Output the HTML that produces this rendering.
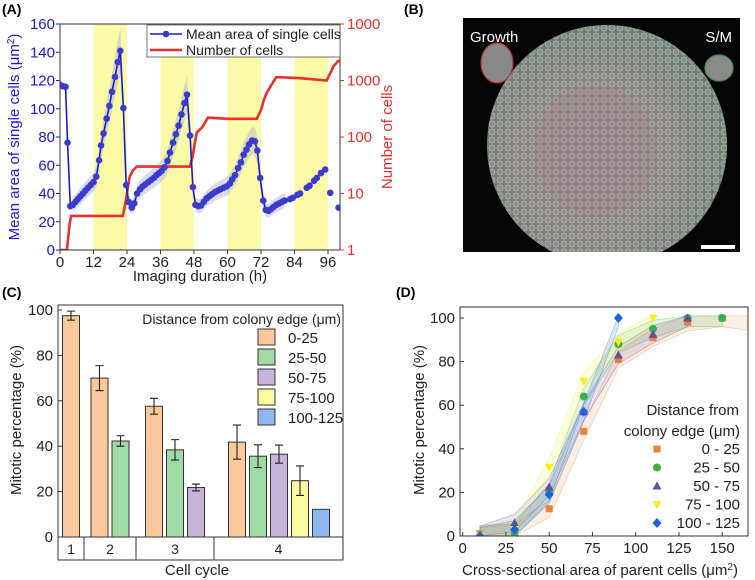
<!DOCTYPE html>
<html><head><meta charset="utf-8"><style>
body{margin:0;background:#fff}
svg{display:block;font-family:"Liberation Sans",Arial,sans-serif}
</style></head><body>
<svg id="fig" width="755" height="580" viewBox="0 0 755 580" xmlns="http://www.w3.org/2000/svg">
<defs>
<pattern id="cells" width="8" height="8" patternUnits="userSpaceOnUse">
<circle cx="4" cy="4" r="3" fill="#9aa09a" stroke="#d0d6d0" stroke-width="0.9" opacity="0.7"/>
</pattern>
<radialGradient id="colgrad" cx="45%" cy="55%" r="55%">
<stop offset="0" stop-color="#8c7a82"/><stop offset="0.6" stop-color="#86807f"/><stop offset="1" stop-color="#6a7a6e"/>
</radialGradient>
<clipPath id="clipA"><rect x="60" y="24" width="280" height="226"/></clipPath>
<clipPath id="clipB"><rect x="463" y="18" width="277" height="234"/></clipPath>
<clipPath id="clipD"><rect x="460" y="307" width="288" height="229"/></clipPath>
<clipPath id="clipR"><rect x="0" y="0" width="381" height="300"/></clipPath>
</defs>
<g id="pA"></g>
<g id="pB">
<rect x="463" y="18" width="277" height="234" fill="#050505"/>
<g clip-path="url(#clipB)">
<circle cx="607" cy="145" r="120" fill="url(#colgrad)"/>
<circle cx="607" cy="145" r="120" fill="url(#cells)" opacity="0.8"/>
<ellipse cx="595" cy="150" rx="60" ry="65" fill="#b07f8c" opacity="0.2"/>
</g>
<ellipse cx="497" cy="63" rx="16" ry="20" fill="#888" stroke="#c03030" stroke-width="1.2"/>
<ellipse cx="719" cy="68" rx="14" ry="13" fill="#8a8a8a" stroke="#4c8c5c" stroke-width="1.2"/>
<text x="470" y="42" font-size="15" fill="#fff">Growth</text>
<text x="732" y="42" font-size="15" fill="#fff" text-anchor="end">S/M</text>
<rect x="701" y="245" width="34" height="4" fill="#fff"/>
</g>
<g id="pC"></g>
<g id="pD"></g>
<text x="2" y="14" font-size="14" font-weight="bold">(A)</text>
<text x="404" y="14" font-size="14" font-weight="bold">(B)</text>
<text x="2" y="297" font-size="14" font-weight="bold">(C)</text>
<text x="396" y="297" font-size="14" font-weight="bold">(D)</text>
</svg>
<script>
// ---- Panel A data ----
const timesA=[0,1,2,2.7,3.7,4.6,5.5,6.4,7.3,8.2,9.1,10,11,12,13,14,14.7,15.6,16.7,17.7,18.6,19.7,20.7,21.6,22.7,23.7,24.6,25.7,26.6,27.6,28.7,29.6,30.6,31.6,32.6,33.6,34.6,35.5,36.4,37.4,38.5,39.4,40.5,41.5,42.5,43.5,44.6,45.5,46.6,47.6,48.5,49.6,50.5,51.5,52.5,53.5,54.5,55.5,56.5,57.5,58.6,59.7,60.8,61.7,62.7,63.8,64.8,65.8,66.8,67.7,68.8,69.8,70.7,71.7,72.8,73.7,74.7,75.6,76.5,77.5,78.5,79.5,80.5];
const areaA=[117,116,115.5,76,31,32,34,36,38,40,42,44,46,48,52,63.5,74,82.5,93,102,112,122.5,133,141,100.5,46,34,30,33,40,43,45,46.5,48,49.5,51,53,54.5,56,58.5,63,69,76,82,88,96,104,110,81,44.5,32,31,31.5,34,36.5,38,39.5,41,42,43,44,45,47,50,53,58,62,67.5,71,74.7,77.5,77,70.4,51,35,28.4,27.7,29,30.5,32,33,34,35];
const timesA2=[82.4,83.4,85,86,88.4,89.4,91,92,93.5,95,96.8,99.8];
const areaA2=[36,37,39,40,44,45.5,49,51,54.5,57,40.5,30];
const cellT=[0,2.5,3,3.5,4,22.5,23.5,24.5,25,26,27.5,46.5,47.5,48.5,49,51,53,60,70.5,72,73,74,75.5,77.5,86,95.5,97,98,100];
const cellN=[1,1,1.8,3,4,4,7,15,20,25,30,30,45,90,120,150,220,210,210,300,450,600,800,1150,1100,1000,1400,1800,2300];
const bandsA=[[12,24],[36,48],[60,72],[84,96]];
const xTicksA=[0,12,24,36,48,60,72,84,96];
const yTicksA=[0,20,40,60,80,100,120,140,160];
const rTicksA=[1,10,100,1000,10000];
// ---- Panel C data ----
const cycleGroups=[1,2,3,4];
const rangeNames=["0-25","25-50","50-75","75-100","100-125"];
const barCycle=[1,2,2,3,3,3,4,4,4,4,4];
const barRange=[0,0,1,0,1,2,0,1,2,3,4];
const barVal=[97.5,70,42.3,57.6,38.4,21.8,41.8,35.6,36.5,24.8,12.2];
const barErr=[2,5.5,2.3,3.5,4.5,1.5,7.5,5,4,6.5,0];
const yTicksC=[0,20,40,60,80,100];
// ---- Panel D data ----
const dX=[10,30,50,70,90,110,130,150];
const d0=[1,1.5,12.5,48,81,91,98,100];
const d1=[0,1.5,20,64,88,95,100,100];
const d2=[0.5,6,22.5,57,83,92.5,100,null];
const d3=[0,3,31.5,71,89,100,null,null];
const d4=[0,3,19,57,100,null,null,null];
const xTicksD=[0,25,50,75,100,125,150];
const yTicksD=[0,20,40,60,80,100];

const NS="http://www.w3.org/2000/svg";
function mk(parent,tag,attrs,text){const e=document.createElementNS(NS,tag);for(const k in attrs)e.setAttribute(k,attrs[k]);if(text!==undefined)e.textContent=text;parent.appendChild(e);return e;}

// ===== Panel A =====
(function(){
const g=document.getElementById('pA');
const L=60,R=340,T=24,B=250;
const x=h=>L+h*(268/96);
const y=v=>B-v*(B-T)/160;
const yr=n=>B-Math.log10(n)*(B-T)/4;
const cg=mk(g,'g',{'clip-path':'url(#clipA)'});
bandsA.forEach((b,i)=>{const r=mk(cg,'rect',{x:x(b[0]),y:T,width:x(b[1])-x(b[0]),height:B-T,fill:'#fbfaa6'});

});
let up=[],dn=[];
timesA.forEach((t,i)=>{if(t<4)return;const w=2+areaA[i]*0.1;up.push(x(t)+','+y(areaA[i]+w));dn.unshift(x(t)+','+y(areaA[i]-w));});
const band=mk(cg,'polygon',{points:up.concat(dn).join(' '),fill:'#8f9ad8',opacity:0.35});


const rl=mk(cg,'polyline',{points:cellT.map((t,i)=>x(t)+','+yr(cellN[i])).join(' '),fill:'none',stroke:'#e8302c','stroke-width':2.6});


const bl=mk(cg,'polyline',{points:timesA.map((t,i)=>x(t)+','+y(areaA[i])).join(' '),fill:'none',stroke:'#1a1ad0','stroke-width':1.6});


timesA.concat(timesA2).forEach((t,i)=>{const v=i<timesA.length?areaA[i]:areaA2[i-timesA.length];
const c=mk(cg,'circle',{cx:x(t),cy:y(v),r:3.3,fill:'#3b3bcc'});

});
mk(g,'rect',{x:L,y:T,width:R-L,height:B-T,fill:'none',stroke:'#333','stroke-width':1});
xTicksA.forEach(t=>{mk(g,'line',{x1:x(t),x2:x(t),y1:B,y2:B+4,stroke:'#333'});
const tx=mk(g,'text',{x:x(t),y:B+17,'font-size':15,'text-anchor':'middle',fill:'#222'},t);

});
yTicksA.forEach(t=>{mk(g,'line',{x1:L-4,x2:L,y1:y(t),y2:y(t),stroke:'#1a1ad0'});
const tx=mk(g,'text',{x:L-5,y:y(t)+5,'font-size':15,'text-anchor':'end',fill:'#1a1ad0'},t);

});
const rg=mk(g,'g',{'clip-path':'url(#clipR)'});
rTicksA.forEach(t=>{mk(rg,'line',{x1:R,x2:R+4,y1:yr(t),y2:yr(t),stroke:'#e8302c'});
const tx=mk(rg,'text',{x:R+7,y:yr(t)+5,'font-size':15,fill:'#e8302c'},t);

});
const xt=mk(g,'text',{x:200,y:281,'font-size':15,'text-anchor':'middle',fill:'#222'},'Imaging duration (h)');

const lt=mk(g,'text',{transform:'translate(19,137) rotate(-90)','font-size':15,'text-anchor':'middle',fill:'#1a1ad0'});
lt.innerHTML='Mean area of single cells (μm<tspan dy="-5" font-size="10">2</tspan><tspan dy="5">)</tspan>';

const rt=mk(g,'text',{transform:'translate(392,137) rotate(-90)','font-size':15,'text-anchor':'middle',fill:'#e8302c'},'Number of cells');

const lg=mk(g,'g',{});
mk(lg,'rect',{x:147,y:25,width:193,height:32,fill:'#fff',stroke:'#555','stroke-width':0.8});
mk(lg,'line',{x1:150,x2:182,y1:34,y2:34,stroke:'#1a1ad0','stroke-width':1.6});
mk(lg,'circle',{cx:166,cy:34,r:3.3,fill:'#3b3bcc'});
mk(lg,'text',{x:186,y:39,'font-size':14,fill:'#222'},'Mean area of single cells');
mk(lg,'line',{x1:150,x2:182,y1:50,y2:50,stroke:'#e8302c','stroke-width':2.6});
mk(lg,'text',{x:186,y:55,'font-size':14,fill:'#222'},'Number of cells');
})();

// ===== Panel C =====
(function(){
const g=document.getElementById('pC');
const L=58,R=343,T=305,B=537;
const y=v=>B-v*(B-310)/100;
const groupEdges=[58,84,136,214,343];
const fills=['#f9c89b','#9fd9a4','#c7b4da','#fbf99d','#8fb6ef'];
const bw=17,gap=21;
const counts={};
barCycle.forEach(c=>counts[c]=(counts[c]||0)+1);
const seen={};
barCycle.forEach((c,i)=>{
  const k=seen[c]||0;seen[c]=k+1;
  const n=counts[c];
  let cx;
  if(c===4) cx=237+k*gap; else { const mid=(groupEdges[c-1]+groupEdges[c])/2; cx=mid+(k-(n-1)/2)*gap; if(c===1)cx=71;}
  const r=mk(g,'rect',{x:cx-bw/2,y:y(barVal[i]),width:bw,height:B-y(barVal[i]),fill:fills[barRange[i]],stroke:'#333','stroke-width':1});
  
  
  if(barErr[i]>0){const t=y(barVal[i]+barErr[i]),b=y(barVal[i]-barErr[i]);
  const e=mk(g,'path',{d:`M${cx},${t}V${b}M${cx-4},${t}H${cx+4}M${cx-4},${b}H${cx+4}`,stroke:'#222','stroke-width':1.1,fill:'none'});
  
  }
});
mk(g,'rect',{x:L,y:T,width:R-L,height:B-T,fill:'none',stroke:'#333'});
mk(g,'rect',{x:L,y:B,width:R-L,height:23,fill:'none',stroke:'#333'});
groupEdges.slice(1,-1).forEach(e=>mk(g,'line',{x1:e,x2:e,y1:B,y2:B+23,stroke:'#333'}));
cycleGroups.forEach((c,i)=>{const t=mk(g,'text',{x:(groupEdges[i]+groupEdges[i+1])/2,y:B+17,'font-size':14,'text-anchor':'middle',fill:'#222'},c);
});
yTicksC.forEach(t=>{mk(g,'line',{x1:L,x2:L+4,y1:y(t),y2:y(t),stroke:'#333'});
const tx=mk(g,'text',{x:L-5,y:y(t)+5,'font-size':15,'text-anchor':'end',fill:'#222'},t);
});
const yt=mk(g,'text',{transform:'translate(21,420) rotate(-90)','font-size':15,'text-anchor':'middle',fill:'#222'},'Mitotic percentage (%)');

const xt=mk(g,'text',{x:197,y:575,'font-size':15,'text-anchor':'middle',fill:'#222'},'Cell cycle');

const lg=mk(g,'g',{});
mk(lg,'text',{x:341,y:324,'font-size':14,'text-anchor':'end',fill:'#222'},'Distance from colony edge (μm)');
rangeNames.forEach((n,i)=>{mk(lg,'rect',{x:258,y:329+i*20,width:17,height:16,fill:fills[i],stroke:'#333'});
mk(lg,'text',{x:288,y:343+i*20,'font-size':15,fill:'#222'},n);});
})();

// ===== Panel D =====
(function(){
const g=document.getElementById('pD');
const L=460,R=748,T=307,B=536;
const x=v=>462.7+v*1.73;
const y=v=>B-v*2.18;
const series=[d0,d1,d2,d3,d4];
const cols=['#e8843a','#3cb04a','#6a4c9c','#f4f020','#1c64dc'];
const names=['0 - 25','25 - 50','50 - 75','75 - 100','100 - 125'];
const cg=mk(g,'g',{'clip-path':'url(#clipD)'});
function marker(par,kind,cx,cy,col){
  if(kind===0) return mk(par,'rect',{x:cx-3.5,y:cy-3.5,width:7,height:7,fill:col});
  if(kind===1) return mk(par,'circle',{cx:cx,cy:cy,r:4,fill:col});
  if(kind===2) return mk(par,'polygon',{points:`${cx},${cy-4.5} ${cx+4.5},${cy+3.5} ${cx-4.5},${cy+3.5}`,fill:col});
  if(kind===3) return mk(par,'polygon',{points:`${cx},${cy+4.5} ${cx+4.5},${cy-3.5} ${cx-4.5},${cy-3.5}`,fill:col});
  return mk(par,'polygon',{points:`${cx},${cy-5} ${cx+4.5},${cy} ${cx},${cy+5} ${cx-4.5},${cy}`,fill:col});
}
series.forEach((s,k)=>{
  const pts=[];dX.forEach((xv,i)=>{if(s[i]!==null)pts.push([xv,s[i]]);});
  if(k===0)pts.push([168,98]);
  const up=pts.map(p=>x(p[0])+','+y(Math.min(101,p[1]+4)));
  const dn=pts.slice().reverse().map(p=>x(p[0])+','+y(Math.max(0,p[1]-4)));
  const poly=mk(cg,'polygon',{points:up.concat(dn).join(' '),fill:cols[k],'fill-opacity':0.14,stroke:cols[k],'stroke-opacity':0.4,'stroke-width':0.7});
  
  
});
series.forEach((s,k)=>{dX.forEach((xv,i)=>{if(s[i]===null)return;
  const m=marker(cg,k,x(xv),y(s[i]),cols[k]);
  
  });});
mk(g,'rect',{x:L,y:T,width:R-L,height:B-T,fill:'none',stroke:'#333'});
xTicksD.forEach(t=>{mk(g,'line',{x1:x(t),x2:x(t),y1:B,y2:B-4,stroke:'#333'});
const tx=mk(g,'text',{x:x(t),y:B+17,'font-size':15,'text-anchor':'middle',fill:'#222'},t);
});
yTicksD.forEach(t=>{mk(g,'line',{x1:L,x2:L+4,y1:y(t),y2:y(t),stroke:'#333'});
const tx=mk(g,'text',{x:L-5,y:y(t)+5,'font-size':15,'text-anchor':'end',fill:'#222'},t);
});
const yt=mk(g,'text',{transform:'translate(424,420) rotate(-90)','font-size':15,'text-anchor':'middle',fill:'#222'},'Mitotic percentage (%)');

const xt=mk(g,'text',{x:600,y:575,'font-size':15,'text-anchor':'middle',fill:'#222'});
xt.innerHTML='Cross-sectional area of parent cells (μm<tspan dy="-5" font-size="10">2</tspan><tspan dy="5">)</tspan>';

const lg=mk(g,'g',{});
mk(lg,'text',{x:739,y:415,'font-size':15,'text-anchor':'end',fill:'#222'},'Distance from');
mk(lg,'text',{x:740,y:436,'font-size':15,'text-anchor':'end',fill:'#222'},'colony edge (μm)');
names.forEach((n,i)=>{marker(lg,i,657,449+i*18.5,cols[i]);
mk(lg,'text',{x:740,y:454+i*18.5,'font-size':15,'text-anchor':'end',fill:'#222'},n);});
})();
</script>
</body></html>
